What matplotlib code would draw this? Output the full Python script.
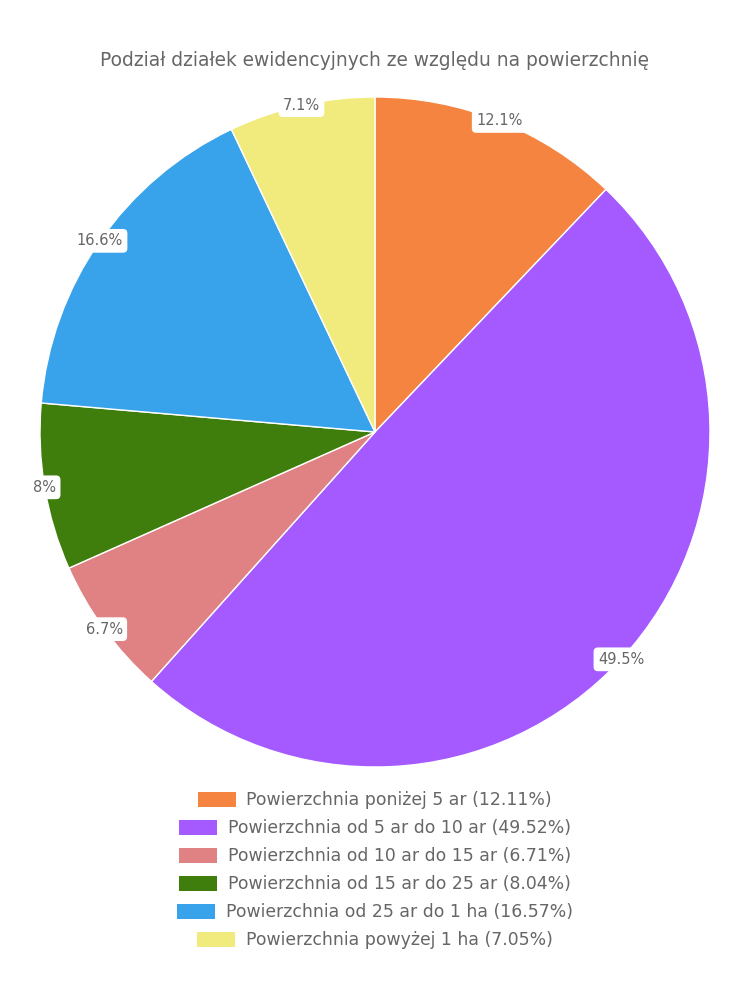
import matplotlib
matplotlib.use("Agg")
import matplotlib.pyplot as plt
from matplotlib.patches import Patch
import numpy as np

title = "Podział działek ewidencyjnych ze względu na powierzchnię"
categories = [
    "Powierzchnia poniżej 5 ar",
    "Powierzchnia od 5 ar do 10 ar",
    "Powierzchnia od 10 ar do 15 ar",
    "Powierzchnia od 15 ar do 25 ar",
    "Powierzchnia od 25 ar do 1 ha",
    "Powierzchnia powyżej 1 ha",
]
values = [12.11, 49.52, 6.71, 8.04, 16.57, 7.05]
slice_labels = ["12.1%", "49.5%", "6.7%", "8%", "16.6%", "7.1%"]
colors = ["#F4843F", "#A45AFF", "#E08283", "#3F7D0C", "#38A2EA", "#F0EB7C"]

plt.rcParams['font.family'] = ['DejaVu Sans']
txt = "#666666"

W, H = 750, 1000
fig = plt.figure(figsize=(W / 100, H / 100), dpi=100)
cx, cy, r = 375, 432, 335
ax = fig.add_axes([(cx - r) / W, (H - cy - r) / H, 2 * r / W, 2 * r / H])
wedges, _ = ax.pie(values, colors=colors, startangle=90, counterclock=False,
                   radius=1, wedgeprops=dict(edgecolor="white", linewidth=1))
ax.set_xlim(-1, 1)
ax.set_ylim(-1, 1)
ax.set_aspect("equal")
ax.axis("off")

total = sum(values)
cum = 0
for v, lab in zip(values, slice_labels):
    mid = (cum + v / 2) / total * 2 * np.pi
    cum += v
    x, y = np.sin(mid), np.cos(mid)
    ax.text(x, y, lab, ha="center", va="center", fontsize=10.5, color=txt,
            bbox=dict(boxstyle="round,pad=0.3,rounding_size=0.3", fc="white", ec="none"))

fig.text(0.5, 1 - 60 / H, title, ha="center", va="center", fontsize=13.4, color=txt)

y0 = 800
for i, (c, col, v) in enumerate(zip(categories, colors, values)):
    y = y0 + 28 * i
    h = Patch(facecolor=col, edgecolor="none")
    leg = fig.legend(handles=[h], labels=[f"{c} ({v:.2f}%)"], loc="center",
                     bbox_to_anchor=(0.5, 1 - y / H), frameon=False, fontsize=12.4,
                     handlelength=2.2, handleheight=0.95, handletextpad=0.6,
                     borderpad=0, borderaxespad=0)
    for t in leg.get_texts():
        t.set_color(txt)

fig.savefig("out.png", dpi=100)
